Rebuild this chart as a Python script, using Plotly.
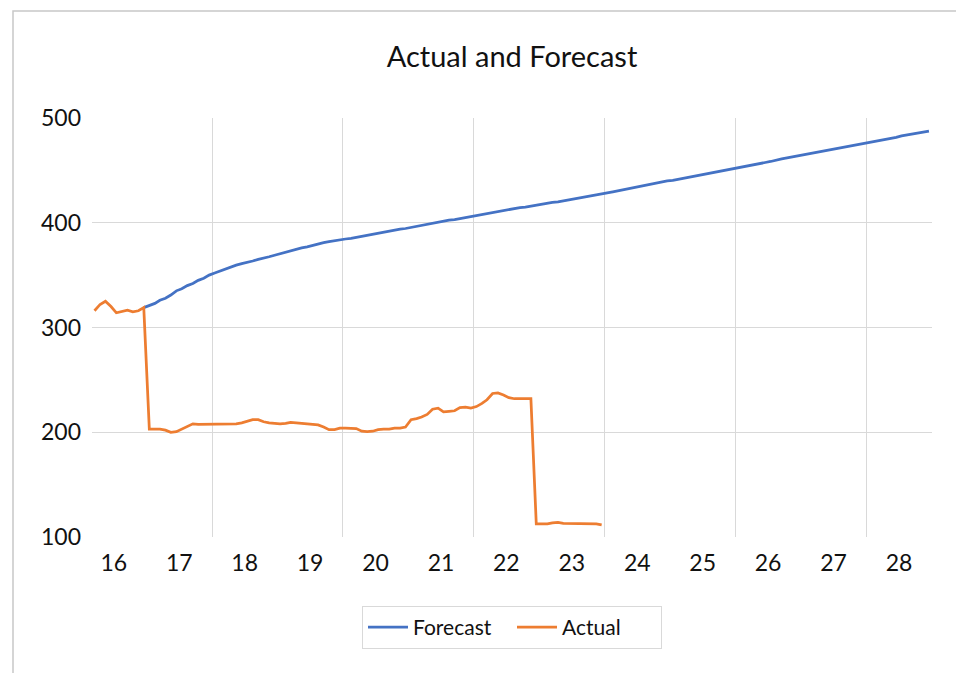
import pandas as pd
import plotly.graph_objects as go

# Monthly series
actual_start = "2016-03-01"
actual = [
    316, 322, 325, 320, 314, 315.5, 316.5, 315, 316, 319,                      # 2016 (Mar-Dec)
    203, 203, 203, 202, 200, 200.5, 203, 206, 208, 207.5, 207.5, 207.5,        # 2017
    208, 208, 208, 208, 208, 209, 210.5, 212, 212, 210, 209, 208.5,            # 2018
    208, 208.5, 209.5, 209, 208.5, 208, 207.5, 207, 205, 202.5, 202.5, 204,    # 2019
    204, 204, 203.5, 201, 200.5, 201, 202.5, 203, 203, 204, 204, 205,          # 2020
    212, 213, 214.5, 217, 222, 223, 219.5, 220, 220.5, 223.5, 224, 223,        # 2021
    224.5, 227.5, 231, 237, 237.5, 235.5, 233, 232, 232, 232, 232, 112.5,      # 2022
    112.5, 112.5, 113.5, 114, 113, 113, 113, 113, 113, 113, 112.5, 111.5,      # 2023
]

forecast_start = "2016-12-01"
forecast = [
    319,                                                                        # 2016 (Dec)
    321, 323, 326, 328, 331, 335, 337, 340, 342, 345, 347, 350,                # 2017
    352, 354, 356, 357.5, 359.5, 361, 362, 363.5, 365, 366, 367.5, 369,        # 2018
    370.5, 372, 373, 374.5, 376, 377, 378.5, 380, 381, 382, 383, 383.5,        # 2019
    384.5, 385, 386, 387, 388, 389, 390, 391, 392, 393, 394, 394.5,            # 2020
    395.5, 396.5, 397.5, 399, 400, 400.5, 401.5, 402.5, 403, 404, 405, 406,    # 2021
    407, 408, 409, 410, 411, 411.5, 412.5, 413.5, 414.5, 415, 416, 417,        # 2022
    418, 418.5, 419.5, 420, 421, 422, 423, 424, 425, 426, 427, 427.5,          # 2023
    428.5, 429.5, 430.5, 432, 433, 434, 435, 436, 437, 438, 439, 440,          # 2024
    440.5, 441.5, 442.5, 443, 444, 445, 446, 447, 448.5, 449.5, 450.5, 451.5,  # 2025
    452.5, 453.5, 454.5, 455.5, 456.5, 457.5, 458.5, 460, 461, 462, 463, 464,  # 2026
    465, 466, 467, 468, 469, 470, 471, 471.5, 472.5, 473.5, 474.5, 475.5,      # 2027
    476.5, 477.5, 478.5, 479.5, 480.5, 481.5, 483, 484, 485, 486, 486.5, 487.5,  # 2028
]

year_labels = ["16", "17", "18", "19", "20", "21", "22", "23", "24", "25", "26", "27", "28"]
grid_years = ["18", "20", "22", "24", "26", "28"]
y_ticks = [100, 200, 300, 400, 500]
y_grid = [200, 300, 400]

BLUE = "#4472C4"
ORANGE = "#ED7D31"
GRID = "#D9D9D9"
FONT = "Lato"

# the page body adds an 8px offset, so the figure is a little smaller than the window
W, H = 956, 665
L, T, PW, PH = 84, 110, 840, 419

# points sit in the middle of each month slot, like an Excel date axis
mid = pd.Timedelta(days=14)
actual_x = pd.date_range(actual_start, periods=len(actual), freq="MS") + mid
forecast_x = pd.date_range(forecast_start, periods=len(forecast), freq="MS") + mid

fig = go.Figure()
fig.add_trace(go.Scatter(x=forecast_x, y=forecast, mode="lines", name="Forecast",
                         line=dict(color=BLUE, width=2.75)))
fig.add_trace(go.Scatter(x=actual_x, y=actual, mode="lines", name="Actual",
                         line=dict(color=ORANGE, width=2.75)))

fig.update_layout(
    width=W, height=H,
    margin=dict(l=L, r=W - L - PW, t=T, b=H - T - PH),
    paper_bgcolor="white", plot_bgcolor="white",
    font=dict(family=FONT, color="#111111"),
    title=dict(text="Actual and Forecast", x=0.5, xref="paper", xanchor="center",
               y=1 - 49 / H, yanchor="middle", font=dict(size=29, color="#111111")),
    showlegend=True,
    legend=dict(orientation="h", x=0.5, xanchor="center", y=-69 / PH, yanchor="top",
                bordercolor=GRID, borderwidth=1, font=dict(size=21),
                entrywidth=94, itemwidth=40, tracegroupgap=0),
    shapes=[dict(type="rect", xref="paper", yref="paper",
                 x0=(5 - L) / PW, x1=1.2, y0=-0.5, y1=1 + (T - 3) / PH,
                 line=dict(color="#C8C8C8", width=1.5), layer="below")],
)

fig.update_xaxes(
    range=["2016-03-01", "2029-01-01"],
    tickmode="array",
    tickvals=[pd.Timestamp(f"20{y}-07-01") for y in year_labels],
    ticktext=year_labels,
    showgrid=False, zeroline=False, showline=False, ticks="",
    ticklabelstandoff=10,
    tickfont=dict(size=23),
    minor=dict(tickmode="array",
               tickvals=[pd.Timestamp(f"20{y}-01-01") for y in grid_years],
               showgrid=True, gridcolor=GRID, gridwidth=1, ticks=""),
)
fig.update_yaxes(
    range=[100, 500],
    tickmode="array", tickvals=y_ticks,
    showgrid=False, zeroline=False, showline=False, ticks="",
    ticklabelstandoff=10,
    tickfont=dict(size=23),
    minor=dict(tickmode="array", tickvals=y_grid,
               showgrid=True, gridcolor=GRID, gridwidth=1, ticks=""),
)

fig.write_html("out.html")
